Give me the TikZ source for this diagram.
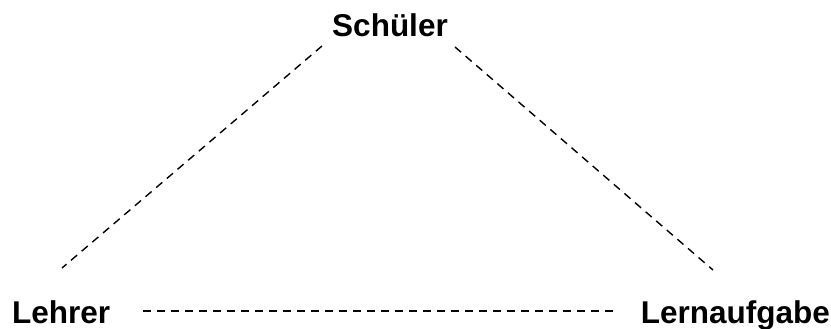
\documentclass[tikz,border=0pt]{standalone}
\usepackage{fontspec}
\setmainfont{Liberation Sans}
\usetikzlibrary{positioning}

\begin{document}
\begin{tikzpicture}[x=1pt, y=-1pt,
          role/.style={font=\fontsize{31.5}{38}\selectfont\bfseries, inner sep=0pt, anchor=base},
          link/.style={draw=black, line width=1.4pt, dash pattern=on 8pt off 6pt}]
        \useasboundingbox (0,0) rectangle (831,329);
        \node[role] (schueler) at (390,37) {Schüler};
        \node[role, anchor=base west] (lehrer) at (12,323) {Lehrer};
        \node[role, anchor=base east] (aufgabe) at (830,323) {Lernaufgabe};
        % Enden der gestrichelten Linien
        \coordinate (schL) at (322,46);
        \coordinate (lehU) at (62,268);
        \coordinate (schR) at (455,47);
        \coordinate (aufU) at (713,270);
        \coordinate (lehR) at (143,311);
        \coordinate (aufL) at (613,311);
        \draw[link] (schL) -- (lehU);
        \draw[link] (schR) -- (aufU);
        \draw[link] (lehR) -- (aufL);
      \end{tikzpicture}
\end{document}
